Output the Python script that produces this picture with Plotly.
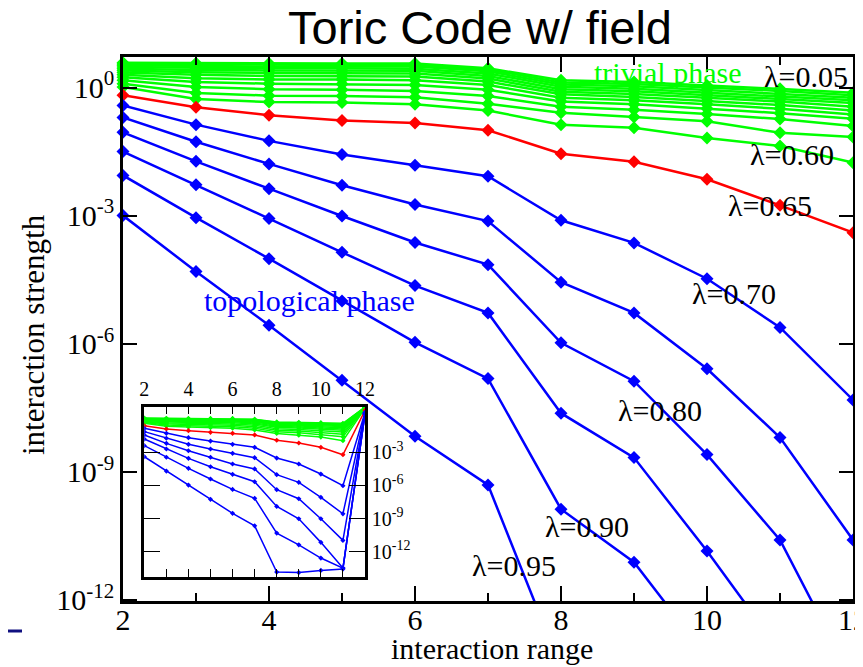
import plotly.graph_objects as go

# ---------------- data (log10 of interaction strength) ----------------
interaction_range = [2, 3, 4, 5, 6, 7, 8, 9, 10, 11, 12]

# main panel: trivial phase (green), lambda = 0.05 ... 0.60
main_l005 = [0.58, 0.57, 0.56, 0.56, 0.56, 0.45, 0.17, 0.13, 0.05, -0.03, -0.12]
main_l010 = [0.55, 0.54, 0.53, 0.53, 0.53, 0.42, 0.12, 0.08, 0.00, -0.08, -0.18]
main_l015 = [0.52, 0.50, 0.49, 0.49, 0.49, 0.38, 0.07, 0.03, -0.06, -0.14, -0.24]
main_l020 = [0.48, 0.46, 0.45, 0.45, 0.44, 0.33, 0.02, -0.03, -0.12, -0.20, -0.30]
main_l025 = [0.44, 0.41, 0.40, 0.40, 0.39, 0.27, -0.04, -0.09, -0.18, -0.26, -0.36]
main_l030 = [0.40, 0.36, 0.34, 0.34, 0.33, 0.21, -0.10, -0.15, -0.24, -0.33, -0.45]
main_l035 = [0.35, 0.30, 0.27, 0.27, 0.26, 0.14, -0.16, -0.22, -0.31, -0.41, -0.54]
main_l040 = [0.30, 0.22, 0.19, 0.19, 0.17, 0.06, -0.24, -0.30, -0.39, -0.50, -0.63]
main_l045 = [0.24, 0.13, 0.09, 0.08, 0.06, -0.05, -0.33, -0.39, -0.49, -0.60, -0.73]
main_l050 = [0.17, 0.01, -0.04, -0.05, -0.08, -0.20, -0.45, -0.52, -0.62, -0.74, -0.90]
main_l055 = [0.09, -0.13, -0.19, -0.20, -0.23, -0.38, -0.59, -0.69, -0.79, -1.06, -1.16]
main_l060 = [0.01, -0.27, -0.34, -0.35, -0.39, -0.54, -0.87, -0.94, -1.18, -1.37, -1.76]
# critical (red), lambda = 0.65
main_l065 = [-0.18, -0.46, -0.65, -0.77, -0.83, -1.00, -1.55, -1.74, -2.15, -2.76, -3.40]
# topological phase (blue), lambda = 0.70 ... 0.95
main_l070 = [-0.42, -0.87, -1.25, -1.57, -1.82, -2.08, -3.11, -3.64, -4.48, -5.62, -7.32]
main_l075 = [-0.70, -1.27, -1.79, -2.29, -2.74, -3.13, -4.56, -5.28, -6.59, -8.20, -10.60]
main_l080 = [-1.05, -1.73, -2.37, -3.01, -3.63, -4.15, -5.98, -6.88, -8.60, -10.60, -13.90]
main_l085 = [-1.50, -2.28, -3.07, -3.86, -4.64, -5.28, -7.63, -8.67, -10.86, -13.20, -15.50]
main_l090 = [-2.06, -3.05, -4.01, -5.00, -5.97, -6.82, -9.88, -11.12, -13.40, -15.60, -17.80]
main_l095 = [-3.00, -4.31, -5.57, -6.86, -8.17, -9.31, -13.60, -15.50, -17.50, -19.50, -21.50]

# inset panel
inset_l005 = [0.10, 0.08, 0.07, 0.07, 0.07, 0.00, -0.25, -0.28, -0.32, -0.37, 1.10]
inset_l010 = [0.07, 0.05, 0.04, 0.04, 0.04, -0.04, -0.30, -0.33, -0.38, -0.43, 1.09]
inset_l015 = [0.04, 0.02, 0.01, 0.01, 0.00, -0.08, -0.36, -0.39, -0.45, -0.50, 1.08]
inset_l020 = [0.01, -0.02, -0.03, -0.04, -0.05, -0.13, -0.42, -0.46, -0.52, -0.58, 1.07]
inset_l025 = [-0.03, -0.07, -0.08, -0.09, -0.10, -0.19, -0.49, -0.53, -0.60, -0.67, 1.06]
inset_l030 = [-0.07, -0.12, -0.14, -0.15, -0.16, -0.26, -0.56, -0.61, -0.69, -0.77, 1.05]
inset_l035 = [-0.11, -0.18, -0.21, -0.22, -0.24, -0.34, -0.64, -0.70, -0.79, -0.88, 1.04]
inset_l040 = [-0.15, -0.25, -0.29, -0.30, -0.33, -0.43, -0.74, -0.80, -0.91, -1.01, 1.03]
inset_l045 = [-0.20, -0.33, -0.38, -0.40, -0.43, -0.55, -0.86, -0.93, -1.05, -1.17, 1.02]
inset_l050 = [-0.25, -0.42, -0.48, -0.51, -0.55, -0.68, -1.00, -1.08, -1.22, -1.36, 1.01]
inset_l055 = [-0.30, -0.52, -0.60, -0.63, -0.68, -0.83, -1.15, -1.24, -1.40, -1.60, 1.00]
inset_l060 = [-0.36, -0.63, -0.72, -0.76, -0.82, -0.98, -1.30, -1.45, -1.62, -1.95, 0.98]
inset_l065 = [-0.59, -0.89, -1.04, -1.19, -1.28, -1.43, -1.91, -2.16, -2.55, -3.22, 0.80]
inset_l070 = [-0.83, -1.28, -1.68, -1.98, -2.28, -2.55, -3.52, -4.06, -4.97, -6.03, 0.60]
inset_l075 = [-1.13, -1.73, -2.28, -2.70, -3.09, -3.49, -5.03, -5.72, -7.08, -8.57, 0.57]
inset_l080 = [-1.43, -2.19, -2.86, -3.45, -4.06, -4.51, -6.39, -7.21, -9.02, -10.98, 0.54]
inset_l085 = [-1.80, -2.70, -3.55, -4.31, -5.00, -5.67, -7.90, -9.02, -11.16, -13.49, 0.51]
inset_l090 = [-2.40, -3.45, -4.45, -5.42, -6.36, -7.17, -10.32, -11.38, -12.58, -13.49, 0.48]
inset_l095 = [-3.40, -4.70, -5.97, -7.26, -8.53, -9.66, -13.85, -13.90, -13.70, -13.58, 0.45]

main_green = [main_l005, main_l010, main_l015, main_l020, main_l025, main_l030,
              main_l035, main_l040, main_l045, main_l050, main_l055, main_l060]
main_red = [main_l065]
main_blue = [main_l070, main_l075, main_l080, main_l085, main_l090, main_l095]
inset_green = [inset_l005, inset_l010, inset_l015, inset_l020, inset_l025, inset_l030,
               inset_l035, inset_l040, inset_l045, inset_l050, inset_l055, inset_l060]
inset_red = [inset_l065]
inset_blue = [inset_l070, inset_l075, inset_l080, inset_l085, inset_l090, inset_l095]

main_ytick_vals = [1, 1e-3, 1e-6, 1e-9, 1e-12]
main_ytick_text = ["10<sup>0</sup>", "10<sup>-3</sup>", "10<sup>-6</sup>",
                   "10<sup>-9</sup>", "10<sup>-12</sup>"]
inset_ytick_vals = [1e-3, 1e-6, 1e-9, 1e-12]
inset_ytick_text = ["10<sup>-3</sup>", "10<sup>-6</sup>", "10<sup>-9</sup>", "10<sup>-12</sup>"]
x_ticks = [2, 4, 6, 8, 10, 12]

GREEN, RED, BLUE = "#00ff00", "#ff0000", "#0000ff"
SERIF = "Liberation Serif"
MAIN_YMIN, MAIN_YMAX = -12.03, 0.715
INSET_YMIN, INSET_YMAX = -14.27, 1.13

fig = go.Figure()


def add_main(series_list, color):
    for s in series_list:
        vals = [10 ** v for v in s]
        fig.add_trace(go.Scatter(x=interaction_range, y=vals, mode="lines",
                                 line=dict(color=color, width=2.5),
                                 showlegend=False, hoverinfo="skip"))
        mx = [x for x, v in zip(interaction_range, s) if v >= MAIN_YMIN]
        my = [10 ** v for v in s if v >= MAIN_YMIN]
        fig.add_trace(go.Scatter(x=mx, y=my, mode="markers",
                                 marker=dict(symbol="diamond", size=10, color=color),
                                 cliponaxis=False, showlegend=False, hoverinfo="skip"))


def add_inset(series_list, color):
    for s in series_list:
        vals = [10 ** v for v in s]
        fig.add_trace(go.Scatter(x=interaction_range, y=vals, mode="lines+markers",
                                 line=dict(color=color, width=1.5),
                                 marker=dict(symbol="diamond", size=4, color=color),
                                 xaxis="x2", yaxis="y2",
                                 showlegend=False, hoverinfo="skip"))


add_main(main_green, GREEN)
add_main(main_red, RED)
add_main(main_blue, BLUE)
add_inset(inset_green, GREEN)
add_inset(inset_red, RED)
add_inset(inset_blue, BLUE)

# The page body adds an 8 px offset, so the figure is 8 px smaller and
# screen pixel (sx, sy) = figure pixel + 8.
OFF = 8
W, H = 863 - OFF, 667 - OFF
L, R, T, B = 123 - OFF, 10, 57 - OFF, 66
pw, ph = W - L - R, H - T - B


def px(sx):
    return (sx - OFF - L) / pw


def py(sy):
    return (H - B - (sy - OFF)) / ph


common = dict(showline=True, linecolor="black", mirror="ticks", showgrid=False,
              zeroline=False, automargin=False, tickcolor="black",
              ticklabeloverflow="allow")

fig.update_layout(
    template="none",
    width=W, height=H,
    margin=dict(l=L, r=R, t=T, b=B, pad=0),
    paper_bgcolor="white", plot_bgcolor="white",
    showlegend=False,
    font=dict(family=SERIF, color="black"),
    xaxis=dict(range=[2, 12], tickvals=x_ticks, ticks="inside", ticklen=15, tickwidth=1.5,
               linewidth=2.5, ticklabelstandoff=-10,
               tickfont=dict(family=SERIF, size=30, color="black"),
               minor=dict(dtick=1, tick0=0, ticks="inside", ticklen=8, tickwidth=1.5,
                          tickcolor="black", showgrid=False), **common),
    yaxis=dict(type="log", range=[MAIN_YMIN, MAIN_YMAX], tickvals=main_ytick_vals,
               ticktext=main_ytick_text, ticks="inside", ticklen=14, tickwidth=1.5,
               linewidth=2.5,
               tickfont=dict(family=SERIF, size=30, color="black"), **common),
    xaxis2=dict(domain=[px(144.3), px(365)], anchor="y2", side="top", range=[2, 12],
                tickvals=x_ticks, ticks="inside", ticklen=8, tickwidth=1.2,
                linewidth=2.5,
                tickfont=dict(family=SERIF, size=20, color="black"),
                minor=dict(dtick=1, tick0=0, ticks="inside", ticklen=8, tickwidth=1.2,
                           tickcolor="black", showgrid=False), **common),
    yaxis2=dict(domain=[py(576.7), py(406.7)], anchor="x2", side="right", type="log",
                range=[INSET_YMIN, INSET_YMAX], tickvals=inset_ytick_vals,
                ticktext=inset_ytick_text, ticks="inside", ticklen=16, tickwidth=1.2,
                linewidth=2.5,
                tickfont=dict(family=SERIF, size=20, color="black"), **common),
)

annotations = [
    dict(text="Toric Code w/ field", x=px(480), y=py(27.5), xref="paper", yref="paper",
         showarrow=False, font=dict(family="Liberation Sans", size=47, color="black"),
         xanchor="center", yanchor="middle"),
    dict(text="interaction range", x=px(492), y=py(648), xref="paper", yref="paper",
         showarrow=False, font=dict(family=SERIF, size=30, color="black"),
         xanchor="center", yanchor="middle"),
    dict(text="interaction strength", x=px(33), y=py(335), xref="paper", yref="paper",
         showarrow=False, textangle=-90, font=dict(family=SERIF, size=31, color="black"),
         xanchor="center", yanchor="middle"),
]

labels = [
    ("λ=0.05", 805.5, 77, "black"),
    ("trivial phase", 667, 72, GREEN),
    ("λ=0.60", 791.5, 154, "black"),
    ("λ=0.65", 769.5, 205, "black"),
    ("λ=0.70", 733.5, 293, "black"),
    ("λ=0.80", 660, 410, "black"),
    ("λ=0.90", 587, 526, "black"),
    ("λ=0.95", 513.7, 565, "black"),
    ("topological phase", 309, 300, BLUE),
]
for text, xp, yp, col in labels:
    annotations.append(dict(text=text, x=px(xp), y=py(yp), xref="paper", yref="paper",
                            showarrow=False, xanchor="center", yanchor="middle",
                            font=dict(family=SERIF, size=30, color=col)))
fig.update_layout(annotations=annotations)

# small slide decoration at the bottom-left corner
fig.add_shape(type="line", xref="paper", yref="paper", x0=px(0), x1=px(22),
              y0=py(631), y1=py(631), line=dict(color="#101080", width=3))

fig.write_html("out.html")
